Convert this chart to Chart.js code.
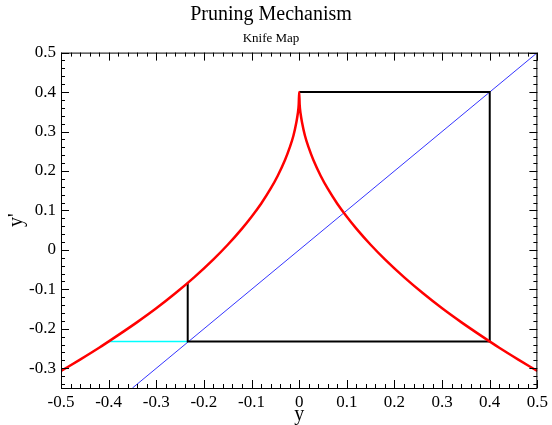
<!DOCTYPE html>
<html>
<head>
<meta charset="utf-8">
<script src="https://cdn.jsdelivr.net/npm/chart.js@4/dist/chart.umd.min.js"></script>
<style>
  html, body { margin: 0; padding: 0; background: #fff; }
  #wrap { width: 552px; height: 425px; }
</style>
</head>
<body>
<div id="wrap"><canvas id="c" width="552" height="425"></canvas></div>
<script>
// knife map curve
const knifeX = [-0.5, -0.46, -0.42, -0.38, -0.34, -0.3, -0.26, -0.22, -0.18, -0.15, -0.12, -0.1, -0.08, -0.06, -0.045, -0.03, -0.02, -0.012, -0.006, -0.003, -0.001, 0,
                0.001, 0.003, 0.006, 0.012, 0.02, 0.03, 0.045, 0.06, 0.08, 0.1, 0.12, 0.15, 0.18, 0.22, 0.26, 0.3, 0.34, 0.38, 0.42, 0.46, 0.5];
const knifeY = [-0.307, -0.278, -0.248, -0.216, -0.183, -0.148, -0.110, -0.069, -0.024, 0.013, 0.054, 0.084, 0.117, 0.155, 0.188, 0.227, 0.259, 0.290, 0.323, 0.345, 0.368, 0.400,
                0.368, 0.345, 0.323, 0.290, 0.259, 0.227, 0.188, 0.155, 0.117, 0.084, 0.054, 0.013, -0.024, -0.069, -0.110, -0.148, -0.183, -0.216, -0.248, -0.278, -0.307];

// diagonal y' = y
const diagX = [-0.35, 0.5];
const diagY = [-0.35, 0.5];

// cobweb iteration (black)
const webX = [0, 0.4, 0.4, -0.234, -0.234];
const webY = [0.4, 0.4, -0.232, -0.232, -0.084];

// cyan segment
const cyanX = [-0.4, -0.234];
const cyanY = [-0.232, -0.232];

const xTicks = [-0.5, -0.4, -0.3, -0.2, -0.1, 0, 0.1, 0.2, 0.3, 0.4, 0.5];
const yTicks = [-0.3, -0.2, -0.1, 0, 0.1, 0.2, 0.3, 0.4, 0.5];

const pts = (xs, ys) => xs.map((x, i) => ({ x: x, y: ys[i] }));
const serif = '"Liberation Serif", "DejaVu Serif", serif';
const fmt = v => (Math.abs(v) < 1e-9 ? '0' : v.toFixed(1));

// frame + inward ticks on all four sides
const frameTicks = {
  id: 'frameTicks',
  afterDatasetsDraw(chart) {
    const { ctx, chartArea: a, scales: { x, y } } = chart;
    ctx.save();
    ctx.strokeStyle = '#000';
    ctx.lineWidth = 1;
    ctx.strokeRect(a.left + 0.5, a.top + 0.5, a.right - a.left - 1, a.bottom - a.top);
    ctx.beginPath();
    for (let i = 0; i <= 50; i++) {
      const v = -0.5 + i * 0.02;
      const px = Math.round(x.getPixelForValue(v)) + 0.5;
      const len = i % 5 === 0 ? 8 : 4;
      ctx.moveTo(px, a.bottom); ctx.lineTo(px, a.bottom - len);
      ctx.moveTo(px, a.top); ctx.lineTo(px, a.top + len);
    }
    for (let i = 0; i <= 42; i++) {
      const v = -0.34 + i * 0.02;
      const py = Math.round(y.getPixelForValue(v)) + 0.5;
      const major = Math.abs(Math.round(v * 10) - v * 10) < 1e-6;
      const len = major ? 8 : 4;
      ctx.moveTo(a.left, py); ctx.lineTo(a.left + len, py);
      ctx.moveTo(a.right, py); ctx.lineTo(a.right - len, py);
    }
    ctx.stroke();
    ctx.restore();
  }
};

new Chart(document.getElementById('c'), {
  type: 'scatter',
  data: {
    datasets: [
      { data: pts(knifeX, knifeY), borderColor: '#ff0000', borderWidth: 2.5, showLine: true, pointRadius: 0, cubicInterpolationMode: 'monotone' },
      { data: pts(webX, webY), borderColor: '#000000', borderWidth: 2, showLine: true, pointRadius: 0 },
      { data: pts(cyanX, cyanY), borderColor: '#00ffff', borderWidth: 1.4, showLine: true, pointRadius: 0 },
      { data: pts(diagX, diagY), borderColor: '#0000ff', borderWidth: 0.8, showLine: true, pointRadius: 0 }
    ]
  },
  options: {
    responsive: false,
    animation: false,
    layout: { padding: { left: 0, right: 10, top: 0, bottom: 0 } },
    plugins: {
      legend: { display: false },
      tooltip: { enabled: false },
      title: {
        display: true, text: 'Pruning Mechanism', color: '#000',
        font: { family: serif, size: 20, weight: 'normal' },
        padding: { top: 3, bottom: 0 }
      },
      subtitle: {
        display: true, text: 'Knife Map', color: '#000',
        font: { family: serif, size: 13, weight: 'normal' },
        padding: { top: 4, bottom: 6 }
      }
    },
    scales: {
      x: {
        type: 'linear', min: -0.5, max: 0.5,
        afterBuildTicks: s => { s.ticks = xTicks.map(v => ({ value: v })); },
        afterFit: s => { s.height = 37; },
        grid: { display: false, drawTicks: false },
        border: { display: false },
        ticks: { color: '#000', padding: 4, maxRotation: 0, font: { family: serif, size: 17 }, callback: fmt },
        title: { display: true, text: 'y', color: '#000', padding: { top: 0, bottom: -2 }, font: { family: serif, size: 20 } }
      },
      y: {
        type: 'linear', min: -0.35, max: 0.5,
        afterBuildTicks: s => { s.ticks = yTicks.map(v => ({ value: v })); },
        afterFit: s => { s.width = 61; },
        grid: { display: false, drawTicks: false },
        border: { display: false },
        ticks: { color: '#000', padding: 5, font: { family: serif, size: 17 }, callback: fmt },
        title: { display: true, text: "y'", color: '#000', padding: { top: 5, bottom: 0 }, font: { family: serif, size: 20 } }
      }
    }
  },
  plugins: [frameTicks]
});
</script>
</body>
</html>
